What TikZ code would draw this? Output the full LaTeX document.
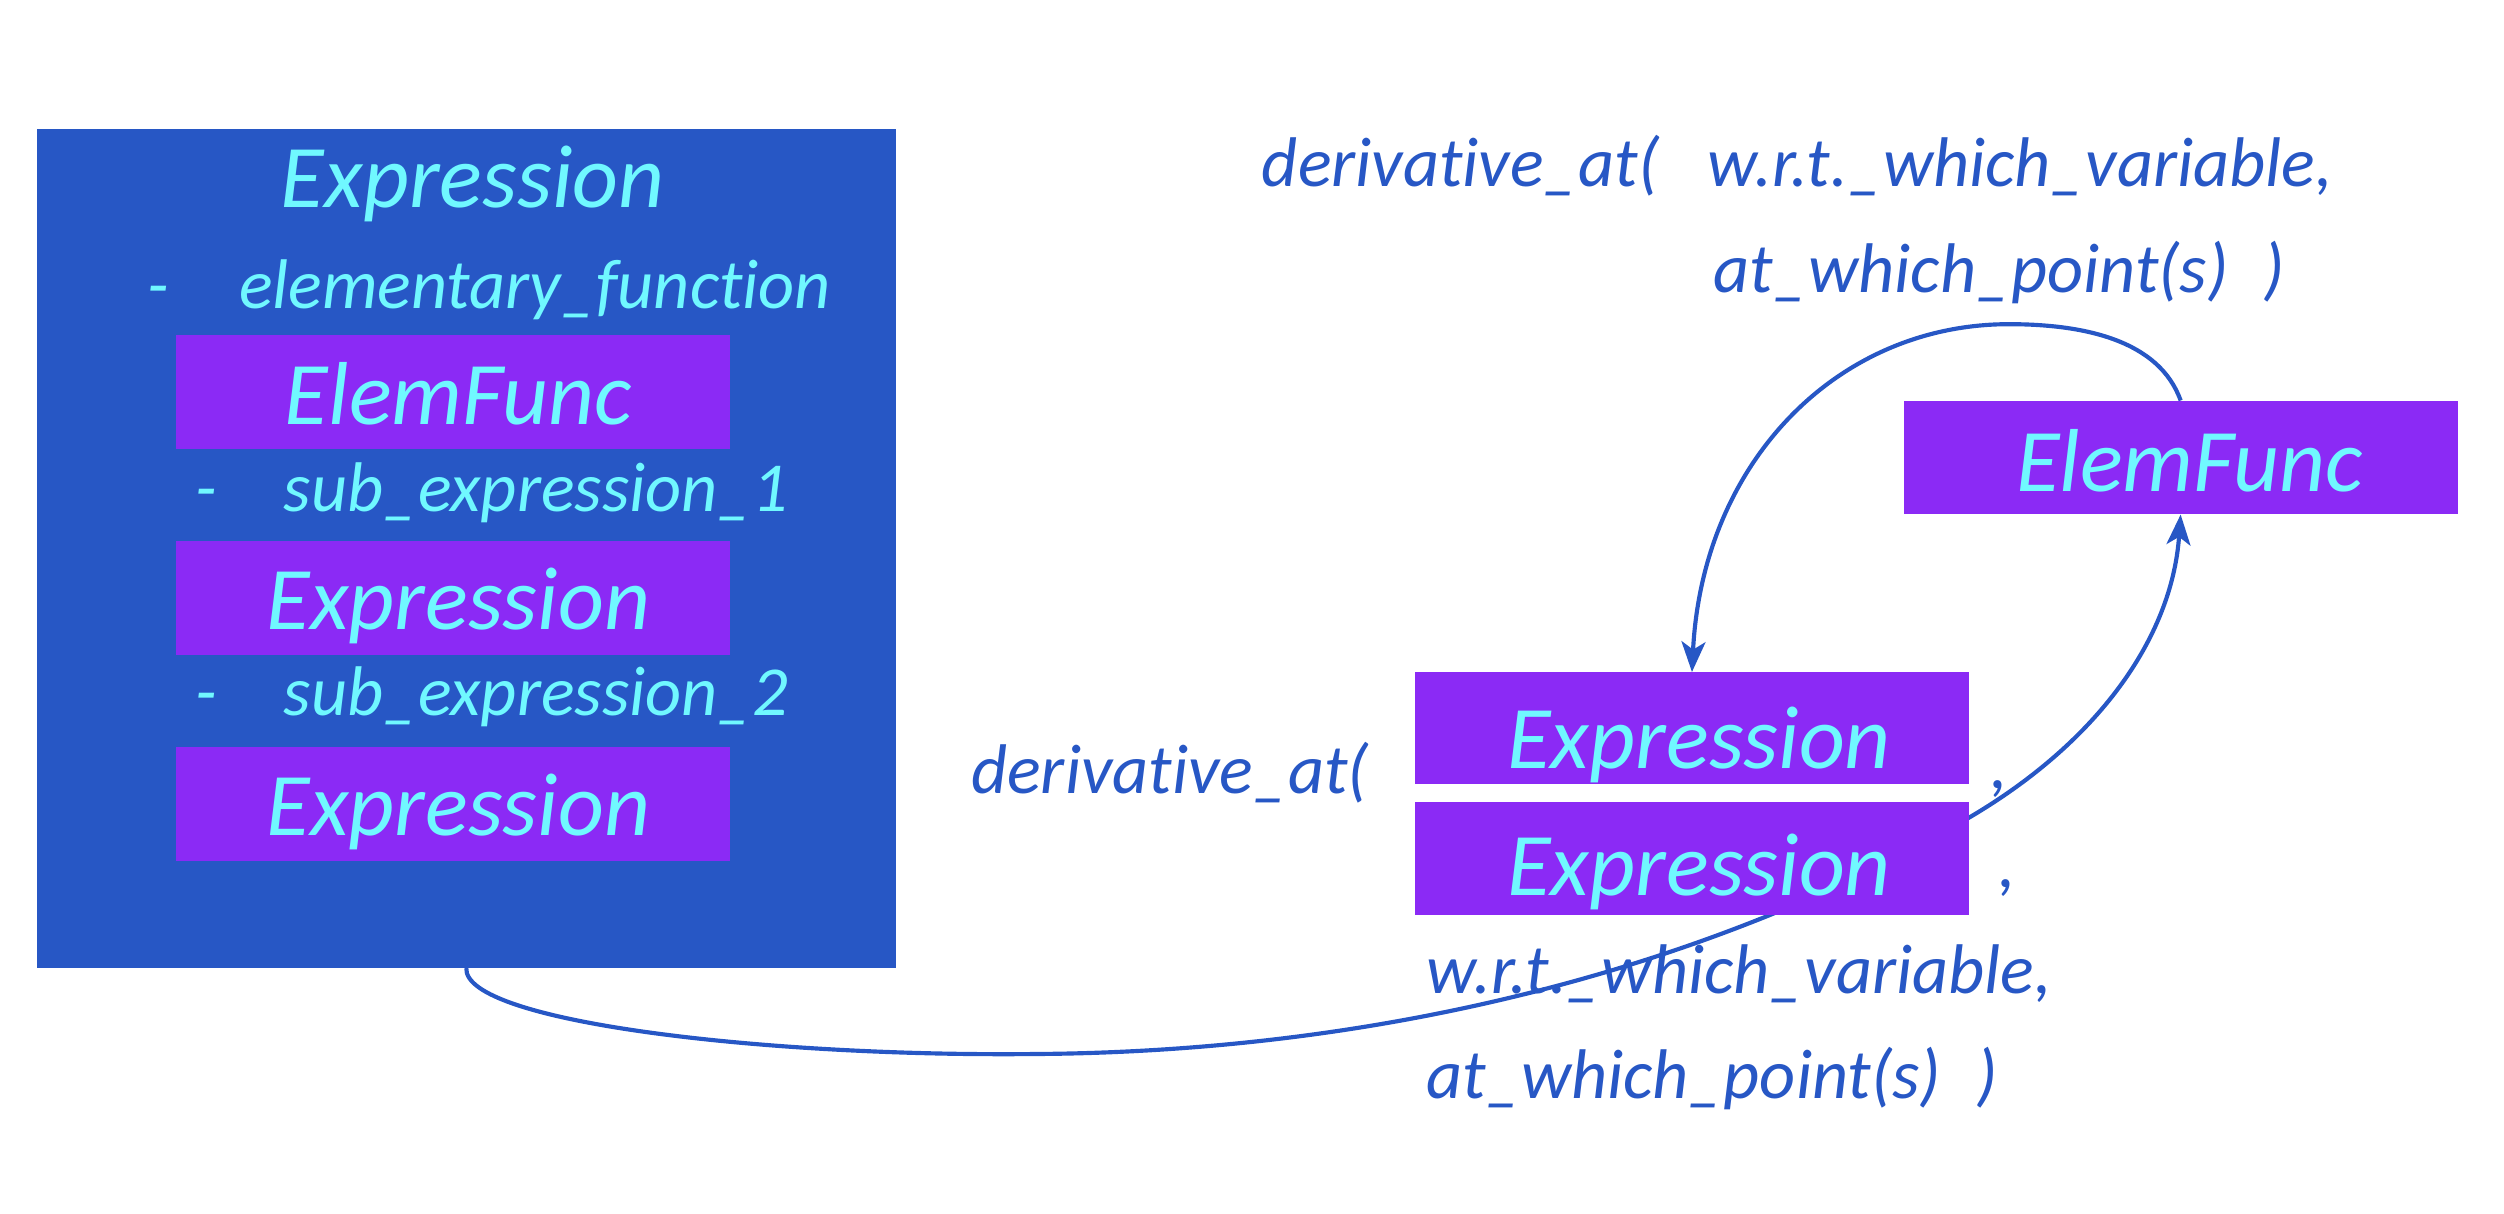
\documentclass[tikz,border=0pt]{standalone}
\usepackage{fontspec}
\setmainfont{Carlito}[Ligatures=NoCommon]
\usetikzlibrary{arrows.meta}
\definecolor{boxblue}{HTML}{2757C5}
\definecolor{boxpurple}{HTML}{8B2AF5}
\definecolor{txtcyan}{HTML}{70F8FF}
\pgfdeclarelayer{back}
\pgfdeclarelayer{lines}
\pgfsetlayers{back,lines,main}
\tikzset{
  bigbox/.style={fill=boxblue, draw=none, inner sep=0pt, minimum width=538pt, minimum height=525pt},
  pbox/.style={fill=boxpurple, draw=none, inner sep=0pt, minimum width=347pt, minimum height=71pt},
  bigtxt/.style={text=txtcyan, inner sep=0pt, anchor=base, font=\fontsize{56}{60}\selectfont\itshape},
  smalltxt/.style={text=txtcyan, inner sep=0pt, anchor=base west, font=\fontsize{44}{48}\selectfont\itshape},
  bluetxt/.style={text=boxblue, inner sep=0pt, anchor=base west, font=\fontsize{44}{48}\selectfont\itshape},
  conn/.style={draw=boxblue, line width=2.6pt, -{Stealth[length=19pt,width=15pt,inset=5pt]}},
}
\begin{document}
\begin{tikzpicture}[x=1pt,y=-1pt]
\useasboundingbox (0,0) rectangle (1568,760);
% left big box
\node[bigbox] (big) at (292,343.5) {};
\node[bigtxt] (t0) at (296,130) {Expression};
\node[smalltxt] (l1) at (92,193) {-\hspace{44pt}elementary\_function};
\node[pbox] (b1) at (283.5,245.5) {};
\node[bigtxt] (t1) at (287,266) {ElemFunc};
\node[smalltxt] (l2) at (122,320) {-\hspace{42pt}sub\_expression\_1};
\node[pbox] (b2) at (283.5,374.5) {};
\node[bigtxt] (t2) at (287,394) {Expression};
\node[smalltxt] (l3) at (122,448) {-\hspace{42pt}sub\_expression\_2};
\node[pbox] (b3) at (283.5,503.5) {};
\node[bigtxt] (t3) at (287,523) {Expression};
% right side
\node[pbox] (ef) at (1365.5,286.5) {};
\node[bigtxt] (tef) at (1371,308) {ElemFunc};
\node[pbox, minimum height=70pt] (exa) at (1059.5,456) {};
\node[bigtxt] (texa) at (1064,481) {Expression};
\node[pbox] (exb) at (1059.5,537.5) {};
\node[bigtxt] (texb) at (1064,561) {Expression};
\begin{pgfonlayer}{back}
\node[bluetxt] (r1) at (790,117) {derivative\_at(\hspace{30pt}w.r.t.\_which\_variable,};
\node[bluetxt] (r2) at (1073,183) {at\_which\_point(s)\hspace{22pt})};
\node[bluetxt] (d1) at (608,497) {derivative\_at(};
\node[bluetxt] (c1) at (1246,494) {,};
\node[bluetxt] (c2) at (1251,556) {,};
\node[bluetxt] (d2) at (893,622) {w.r.t.\_which\_variable,};
\node[bluetxt] (d3) at (893,688) {at\_which\_point(s)\hspace{22pt})};
\end{pgfonlayer}
\begin{pgfonlayer}{lines}
\draw[conn] (ef.north) .. controls (1352,213) and (1305,203) .. (1258,203)
  .. controls (1150,203) and (1066,290) .. (exa.north);
\draw[conn] (big.south) .. controls (290,640) and (480,662) .. (650,660)
  .. controls (900,658) and (1100,590) .. (1233,512)
  .. controls (1313,465) and (1360,400) .. (ef.south);
\end{pgfonlayer}
\end{tikzpicture}
\end{document}
